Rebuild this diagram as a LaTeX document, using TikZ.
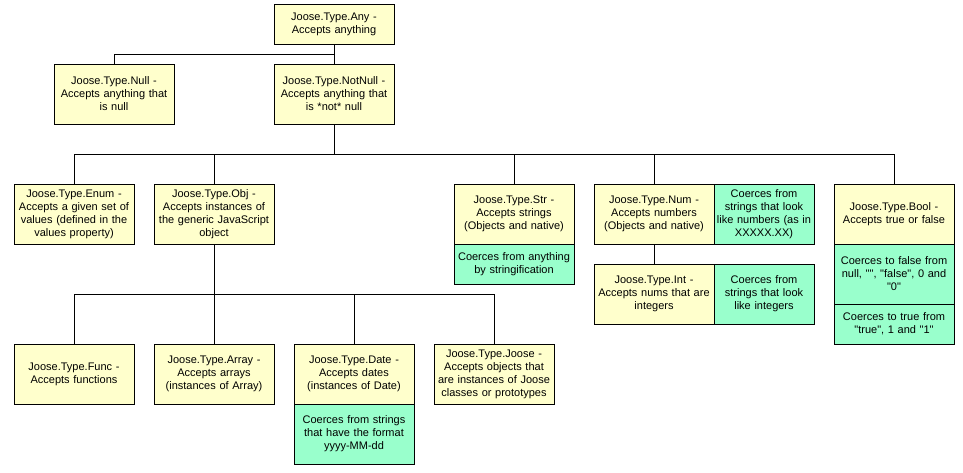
\documentclass[tikz,border=0pt]{standalone}
\usepackage{fontspec}
\setmainfont{Liberation Sans}[Ligatures=TeXOff]
\usepackage{xcolor}
\usepackage{tikz}
\usetikzlibrary{positioning}

\definecolor{typeyellow}{HTML}{FFFFCC}
\definecolor{coercegreen}{HTML}{99FFCC}

\tikzset{
  typebox/.style={draw, rectangle, fill=typeyellow, minimum width=120pt, minimum height=60pt,
    text width=116pt, align=center, inner sep=0pt, outer sep=0pt, font=\fontsize{11}{13}\selectfont},
  coercebox/.style={typebox, fill=coercegreen},
  narrowbox/.style={minimum width=100pt, text width=96pt},
}

\begin{document}
\begin{tikzpicture}[x=1pt, y=1pt, line width=0.8pt]
\useasboundingbox (0,0) rectangle (963,-472);

% Nodes
\node[typebox, minimum height=40pt] (any) at (334,-24) {Joose.Type.Any -\\Accepts anything};
\node[typebox, below=20pt of any] (notnull) {Joose.Type.NotNull -\\Accepts anything that\\is *not* null};
\node[typebox, left=100pt of notnull] (null) {Joose.Type.Null -\\Accepts anything that\\is null};

\node[typebox] (enum) at (74,-214) {Joose.Type.Enum -\\Accepts a given set of\\values (defined in the\\values property)};
\node[typebox, right=20pt of enum] (obj) {Joose.Type.Obj -\\Accepts instances of\\the generic JavaScript\\object};
\node[typebox, right=180pt of obj] (str) {Joose.Type.Str -\\Accepts strings\\(Objects and native)};
\node[coercebox, minimum height=40pt, below=0pt of str] (strc) {Coerces from anything\\by stringification};
\node[typebox, right=20pt of str] (num) {Joose.Type.Num -\\Accepts numbers\\(Objects and native)};
\node[coercebox, narrowbox, right=0pt of num] (numc) {Coerces from\\strings that look\\like numbers (as in\\XXXXX.XX)};
\node[typebox, below=20pt of num] (int) {Joose.Type.Int -\\Accepts nums that are\\integers};
\node[coercebox, narrowbox, right=0pt of int] (intc) {Coerces from\\strings that look\\like integers};
\node[typebox, right=20pt of numc] (bool) {Joose.Type.Bool -\\Accepts true or false};
\node[coercebox, below=0pt of bool] (boolf) {Coerces to false from\\null, "", "false", 0 and\\"0"};
\node[coercebox, minimum height=40pt, below=0pt of boolf] (boolt) {Coerces to true from\\"true", 1 and "1"};

\node[typebox] (func) at (74,-374) {Joose.Type.Func -\\Accepts functions};
\node[typebox, right=20pt of func] (array) {Joose.Type.Array -\\Accepts arrays\\(instances of Array)};
\node[typebox, right=20pt of array] (date) {Joose.Type.Date -\\Accepts dates\\(instances of Date)};
\node[coercebox, below=0pt of date] (datec) {Coerces from strings\\that have the format\\yyyy-MM-dd};
\node[typebox, right=20pt of date] (joose) {Joose.Type.Joose -\\Accepts objects that\\are instances of Joose\\classes or prototypes};

% Lines
\coordinate[below=10pt of any.south] (anybus);
\draw (any) -- (notnull);
\draw (anybus) -| (null.north);

\coordinate[below=30pt of notnull.south] (notnullbus);
\draw (notnull) -- (notnullbus);
\foreach \c in {enum,obj,str,num,bool}
  \draw (notnullbus) -| (\c.north);

\draw (num) -- (int);

\coordinate[below=50pt of obj.south] (objbus);
\draw (obj) -- (objbus);
\foreach \c in {func,array,date,joose}
  \draw (objbus) -| (\c.north);
\end{tikzpicture}
\end{document}
